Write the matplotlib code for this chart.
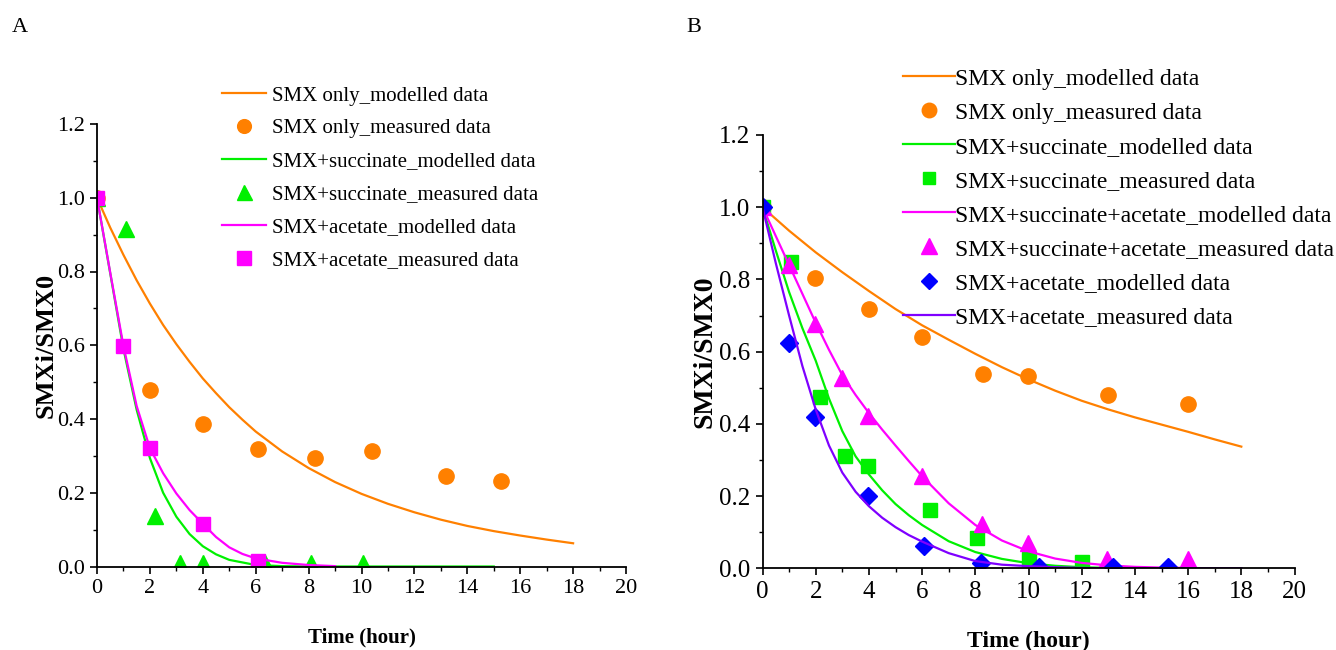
import matplotlib
matplotlib.use("Agg")
import matplotlib.pyplot as plt
from matplotlib.ticker import MultipleLocator

plt.rcParams['font.family'] = ['Liberation Serif', 'DejaVu Serif']

# colours
ORANGE = '#FF8000'
GREEN = '#00F000'
MAGENTA = '#FF00FF'
BLUE = '#0000FF'
PURPLE = '#7F00FF'

# ---------------- panel A data ----------------
tA_only_fit = [0, 0.5, 1, 1.5, 2, 2.5, 3, 3.5, 4, 4.5, 5, 5.5, 6, 7, 8, 9, 10, 11, 12,
               13, 14, 15, 16, 17, 18]
A_only_fit = [1.0, 0.919, 0.845, 0.776, 0.713, 0.655, 0.603, 0.555, 0.51, 0.47, 0.432,
              0.398, 0.366, 0.312, 0.267, 0.229, 0.197, 0.17, 0.147, 0.127, 0.11,
              0.096, 0.084, 0.073, 0.063]
tA_only_meas = [0, 2.0, 4.0, 6.08, 8.24, 10.41, 13.18, 15.26]
A_only_meas = [1.0, 0.478, 0.386, 0.32, 0.293, 0.313, 0.246, 0.233]

tA_succ_fit = [0, 0.5, 1, 1.5, 2, 2.5, 3, 3.5, 4, 4.5, 5, 6, 7, 8, 9, 10, 11, 12, 13, 14, 15]
A_succ_fit = [1.0, 0.795, 0.59, 0.425, 0.294, 0.2, 0.135, 0.088, 0.055, 0.033, 0.018,
              0.004, 0.001, 0, 0, 0, 0, 0, 0, 0, 0]
tA_succ_meas = [0, 1.08, 2.18, 3.13, 4.0, 6.35, 8.1, 10.06]
A_succ_meas = [1.0, 0.916, 0.137, 0.01, 0.01, 0.01, 0.01, 0.01]

tA_acet_fit = [0, 0.5, 1, 1.5, 2, 2.5, 3, 3.5, 4, 4.5, 5, 5.5, 6, 7, 8, 9]
A_acet_fit = [1.0, 0.797, 0.598, 0.435, 0.321, 0.253, 0.198, 0.153, 0.116, 0.08,
              0.052, 0.034, 0.022, 0.01, 0.004, 0.001]
tA_acet_meas = [0, 1.0, 2.0, 4.0, 6.1]
A_acet_meas = [1.0, 0.597, 0.322, 0.116, 0.016]

# ---------------- panel B data ----------------
tB_only_fit = [0, 1, 2, 3, 4, 5, 6, 7, 8, 9, 10, 11, 12, 13, 14, 15, 16, 17, 18]
B_only_fit = [1.0, 0.935, 0.875, 0.82, 0.768, 0.718, 0.673, 0.633, 0.594, 0.557,
              0.523, 0.492, 0.464, 0.44, 0.418, 0.398, 0.378, 0.357, 0.337]
tB_only_meas = [0, 1.99, 4.0, 5.98, 8.29, 9.99, 12.99, 15.98]
B_only_meas = [1.0, 0.804, 0.718, 0.64, 0.538, 0.532, 0.48, 0.454]

tB_fit = [0, 0.5, 1, 1.5, 2, 2.5, 3, 3.5, 4, 4.5, 5, 5.5, 6, 7, 8, 9, 10, 11, 12, 13, 14,
          15, 16, 17, 18]
B_succ_fit = [1.0, 0.88, 0.765, 0.665, 0.575, 0.47, 0.38, 0.31, 0.26, 0.216, 0.178,
              0.147, 0.12, 0.075, 0.045, 0.026, 0.014, 0.007, 0.003, 0.001, 0, 0, 0, 0, 0]
B_sa_fit = [1.0, 0.92, 0.84, 0.76, 0.68, 0.605, 0.535, 0.48, 0.43, 0.384, 0.34, 0.297,
            0.255, 0.18, 0.12, 0.077, 0.047, 0.027, 0.015, 0.008, 0.004, 0.002, 0.001, 0, 0]
B_acet_fit = [1.0, 0.845, 0.7, 0.56, 0.44, 0.34, 0.265, 0.212, 0.172, 0.14, 0.114, 0.092,
              0.074, 0.042, 0.02, 0.01, 0.006, 0.003, 0.001, 0, 0, 0, 0, 0, 0]

tB_succ_meas = [0, 1.09, 2.16, 3.1, 3.98, 6.29, 8.07, 10.02, 12.03]
B_succ_meas = [1.0, 0.849, 0.475, 0.312, 0.284, 0.162, 0.083, 0.026, 0.018]
tB_sa_meas = [0, 0.99, 1.99, 2.99, 3.98, 5.98, 8.27, 9.99, 12.95, 15.98]
B_sa_meas = [1.0, 0.84, 0.677, 0.528, 0.423, 0.255, 0.122, 0.069, 0.025, 0.025]
tB_acet_meas = [0, 0.99, 1.98, 3.98, 6.06, 8.23, 10.4, 13.16, 15.25]
B_acet_meas = [1.0, 0.623, 0.419, 0.201, 0.063, 0.016, 0.004, 0.004, 0.004]

labels_A = ['SMX only_modelled data', 'SMX only_measured data',
            'SMX+succinate_modelled data', 'SMX+succinate_measured data',
            'SMX+acetate_modelled data', 'SMX+acetate_measured data']
labels_B = ['SMX only_modelled data', 'SMX only_measured data',
            'SMX+succinate_modelled data', 'SMX+succinate_measured data',
            'SMX+succinate+acetate_modelled data', 'SMX+succinate+acetate_measured data',
            'SMX+acetate_modelled data', 'SMX+acetate_measured data']

W, H = 1336, 650
fig = plt.figure(figsize=(W / 100, H / 100), dpi=100)


def style_axes(ax, tick_fs):
    ax.set_xlim(0, 20)
    ax.set_ylim(0, 1.2)
    ax.spines['top'].set_visible(False)
    ax.spines['right'].set_visible(False)
    ax.spines['left'].set_linewidth(1.3)
    ax.spines['bottom'].set_linewidth(1.3)
    ax.xaxis.set_major_locator(MultipleLocator(2))
    ax.xaxis.set_minor_locator(MultipleLocator(1))
    ax.yaxis.set_major_locator(MultipleLocator(0.2))
    ax.yaxis.set_minor_locator(MultipleLocator(0.1))
    ax.yaxis.set_major_formatter(matplotlib.ticker.FormatStrFormatter('%.1f'))
    ax.tick_params(which='major', direction='out', length=5, width=1.2, labelsize=tick_fs, pad=4)
    ax.tick_params(which='minor', direction='out', length=3, width=1.0)


# ---------------- panel A ----------------
axA = fig.add_axes([97 / W, (H - 566.5) / H, 529 / W, 442.5 / H])
style_axes(axA, 16)
lw = 1.6
axA.plot(tA_only_fit, A_only_fit, color=ORANGE, lw=lw, label=labels_A[0])
axA.plot(tA_only_meas, A_only_meas, 'o', color=ORANGE, ms=11, ls='none', label=labels_A[1])
axA.plot(tA_succ_fit, A_succ_fit, color=GREEN, lw=lw, label=labels_A[2])
axA.plot(tA_succ_meas, A_succ_meas, '^', color=GREEN, ms=12, ls='none', label=labels_A[3])
axA.plot(tA_acet_fit, A_acet_fit, color=MAGENTA, lw=lw, label=labels_A[4])
axA.plot(tA_acet_meas, A_acet_meas, 's', color=MAGENTA, ms=10.5, ls='none', label=labels_A[5])
axA.set_xlabel('Time (hour)', fontsize=15, fontweight='bold', labelpad=21)
axA.set_ylabel('SMXi/SMX0', fontsize=19, fontweight='bold')
axA.yaxis.set_label_coords(-0.074, 0.5)
axA.legend(loc='upper left', bbox_to_anchor=(222 / W, 1 - 86 / H), bbox_transform=fig.transFigure,
           frameon=False, fontsize=15, handlelength=2.1, handletextpad=0.3, labelspacing=0.64,
           borderpad=0, borderaxespad=0, numpoints=1, markerscale=0.9)
fig.text(12 / W, 1 - 28 / H, 'A', fontsize=16, va='center', ha='left')

# ---------------- panel B ----------------
axB = fig.add_axes([762.5 / W, (H - 568.3) / H, 532 / W, 433.3 / H])
style_axes(axB, 18)
axB.plot(tB_only_fit, B_only_fit, color=ORANGE, lw=lw, label=labels_B[0])
axB.plot(tB_only_meas, B_only_meas, 'o', color=ORANGE, ms=11, ls='none', label=labels_B[1])
axB.plot(tB_fit, B_succ_fit, color=GREEN, lw=lw, label=labels_B[2])
axB.plot(tB_succ_meas, B_succ_meas, 's', color=GREEN, ms=9.5, ls='none', label=labels_B[3])
axB.plot(tB_fit, B_sa_fit, color=MAGENTA, lw=lw, label=labels_B[4])
axB.plot(tB_sa_meas, B_sa_meas, '^', color=MAGENTA, ms=12, ls='none', label=labels_B[5])
axB.plot(tB_acet_meas, B_acet_meas, 'D', color=BLUE, ms=9, ls='none', label=labels_B[6])
axB.plot(tB_fit, B_acet_fit, color=PURPLE, lw=lw, label=labels_B[7])
axB.set_xlabel('Time (hour)', fontsize=17, fontweight='bold', labelpad=20)
axB.set_ylabel('SMXi/SMX0', fontsize=20, fontweight='bold')
axB.yaxis.set_label_coords(-0.0855, 0.5)
axB.legend(loc='upper left', bbox_to_anchor=(903 / W, 1 - 68 / H), bbox_transform=fig.transFigure,
           frameon=False, fontsize=17, handlelength=2.2, handletextpad=0.0, labelspacing=0.53,
           borderpad=0, borderaxespad=0, numpoints=1, markerscale=0.95)
fig.text(686 / W, 1 - 28 / H, 'B', fontsize=16, va='center', ha='left')

fig.savefig('out.png', dpi=100)
